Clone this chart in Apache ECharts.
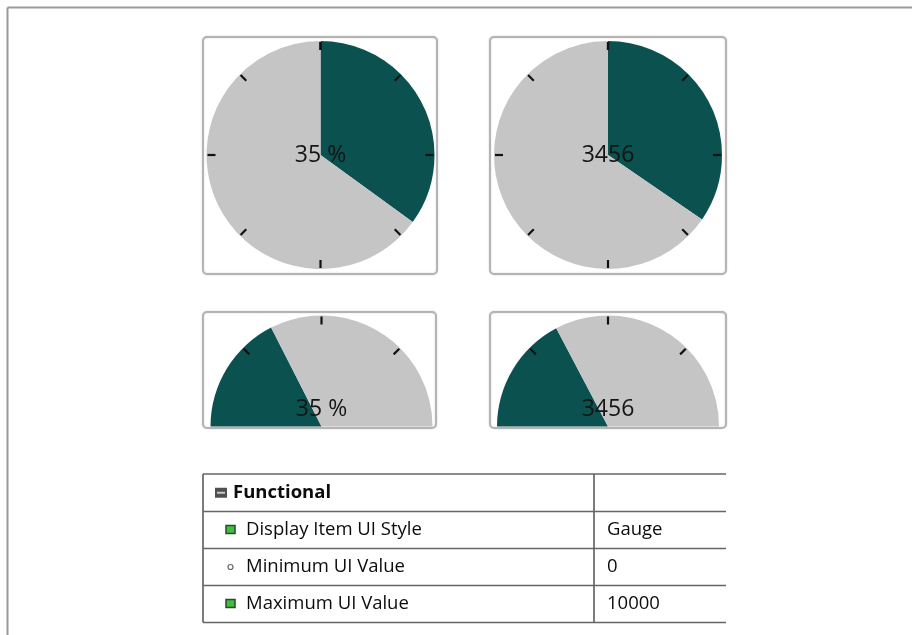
<!DOCTYPE html>
<html><head><meta charset="utf-8">
<script src="https://cdn.jsdelivr.net/npm/echarts@6/dist/echarts.min.js"></script>
<style>html,body{margin:0;padding:0;background:#fff}#c{width:912px;height:635px}</style>
</head><body><div id="c"></div>
<script>
// ---- data ----
const gaugeValues = [35, 3456];
const gaugeMax = [100, 10000];
const gaugeFormats = ['{value} %', '{value}'];
const tableLabels = ['Functional', 'Display Item UI Style', 'Minimum UI Value', 'Maximum UI Value'];
const tableValues = ['', 'Gauge', '0', '10000'];
const tableIcons = ['collapse', 'green', 'dot', 'green'];

// ---- style ----
const TEAL = '#0b5150';
const GREY = '#c5c5c5';
const FONT = '"Open Sans", "Noto Sans", sans-serif';

const fullCenters = [[320.5, 155], [608, 155]];
const fullR = 114;
const halfCenters = [[321.5, 426.5], [608, 426.5]];
const halfR = 111;

const series = [];
function tickGauge(center, r, start, end, split, value, max, fmt, offY) {
  return {
    type: 'gauge', z: 5, silent: true,
    center: center, radius: r,
    startAngle: start, endAngle: end, min: 0, max: max, splitNumber: split,
    axisLine: { show: false, lineStyle: { width: 0 } },
    progress: { show: false },
    axisTick: { show: false },
    axisLabel: { show: false },
    splitLine: { show: true, length: 8, distance: 1, lineStyle: { color: '#111', width: 2.2 } },
    pointer: { show: false }, anchor: { show: false }, title: { show: false },
    detail: { show: true, offsetCenter: [0, offY], fontSize: 23, fontWeight: 'normal',
      color: '#141414', fontFamily: FONT, formatter: fmt },
    data: [{ value: value }]
  };
}
for (let i = 0; i < 2; i++) {
  // full circle
  series.push({
    type: 'pie', silent: true, z: 2,
    center: fullCenters[i], radius: [0, fullR],
    startAngle: 90, clockwise: true,
    label: { show: false }, labelLine: { show: false },
    itemStyle: { borderWidth: 0 },
    data: [
      { value: gaugeValues[i], itemStyle: { color: TEAL } },
      { value: gaugeMax[i] - gaugeValues[i], itemStyle: { color: GREY } }
    ]
  });
  series.push(tickGauge(fullCenters[i], fullR, 90, -270, 8, gaugeValues[i], gaugeMax[i], gaugeFormats[i], 0.5));
  // half circle
  series.push({
    type: 'pie', silent: true, z: 2,
    center: halfCenters[i], radius: [0, halfR],
    startAngle: 180, clockwise: true,
    label: { show: false }, labelLine: { show: false },
    itemStyle: { borderWidth: 0 },
    data: [
      { value: gaugeValues[i], itemStyle: { color: TEAL } },
      { value: gaugeMax[i] - gaugeValues[i], itemStyle: { color: GREY } },
      { value: gaugeMax[i], itemStyle: { color: 'rgba(0,0,0,0)' } }
    ]
  });
  series.push(tickGauge(halfCenters[i], halfR, 135, 45, 2, gaugeValues[i], gaugeMax[i], gaugeFormats[i], -17));
}

// ---- graphics: frame, panels, table ----
const g = [];
g.push({ type: 'line', shape: { x1: 7.5, y1: 7.5, x2: 912, y2: 7.5 }, style: { stroke: '#9a9a9a', lineWidth: 2 } });
g.push({ type: 'line', shape: { x1: 7.5, y1: 7.5, x2: 7.5, y2: 635 }, style: { stroke: '#9a9a9a', lineWidth: 2 } });
const panels = [[203, 37, 234, 237], [490, 37, 236, 237], [203, 312, 233, 116], [490, 312, 236, 116]];
panels.forEach(p => g.push({ type: 'rect', shape: { x: p[0], y: p[1], width: p[2], height: p[3], r: 4 },
  style: { fill: '#fff', stroke: '#b4b4b4', lineWidth: 2, shadowBlur: 2, shadowColor: 'rgba(0,0,0,0.15)' } }));

const tLeft = 203, tRight = 726, tDiv = 594;
const rowY = [474, 511.5, 548.5, 585.5, 622.5];
rowY.forEach(y => g.push({ type: 'line', shape: { x1: tLeft, y1: y, x2: tRight, y2: y }, style: { stroke: '#666', lineWidth: 1.7 } }));
g.push({ type: 'line', shape: { x1: tLeft, y1: rowY[0], x2: tLeft, y2: rowY[4] }, style: { stroke: '#666', lineWidth: 1.7 } });
g.push({ type: 'line', shape: { x1: tDiv, y1: rowY[0], x2: tDiv, y2: rowY[4] }, style: { stroke: '#666', lineWidth: 1.7 } });

tableLabels.forEach((lab, i) => {
  const cy = (rowY[i] + rowY[i + 1]) / 2;
  const icon = tableIcons[i];
  if (icon === 'collapse') {
    g.push({ type: 'rect', shape: { x: 215, y: cy - 5, width: 12, height: 10 }, style: { fill: '#505050' } });
    g.push({ type: 'line', shape: { x1: 217, y1: cy, x2: 225, y2: cy }, style: { stroke: '#c8c8c8', lineWidth: 2 } });
  } else if (icon === 'green') {
    g.push({ type: 'rect', shape: { x: 226, y: cy - 4.5, width: 9, height: 8 }, style: { fill: '#3fbf3f', stroke: '#2a4a2a', lineWidth: 1.5 } });
  } else {
    g.push({ type: 'circle', shape: { cx: 230.5, cy: cy, r: 2.5 }, style: { fill: '#fff', stroke: '#666', lineWidth: 1.2 } });
  }
  g.push({ type: 'text', x: icon === 'collapse' ? 233 : 246, y: cy,
    style: { text: lab, font: (icon === 'collapse' ? 'bold ' : '') + '18.5px ' + FONT, fill: '#0c0c0c', verticalAlign: 'middle' } });
  if (tableValues[i]) {
    g.push({ type: 'text', x: tDiv + 13, y: cy,
      style: { text: tableValues[i], font: '18.5px ' + FONT, fill: '#0c0c0c', verticalAlign: 'middle' } });
  }
});

const chart = echarts.init(document.getElementById('c'), null, { renderer: 'canvas' });
chart.setOption({ animation: false, backgroundColor: '#fff', graphic: { elements: g }, series: series });
</script></body></html>
